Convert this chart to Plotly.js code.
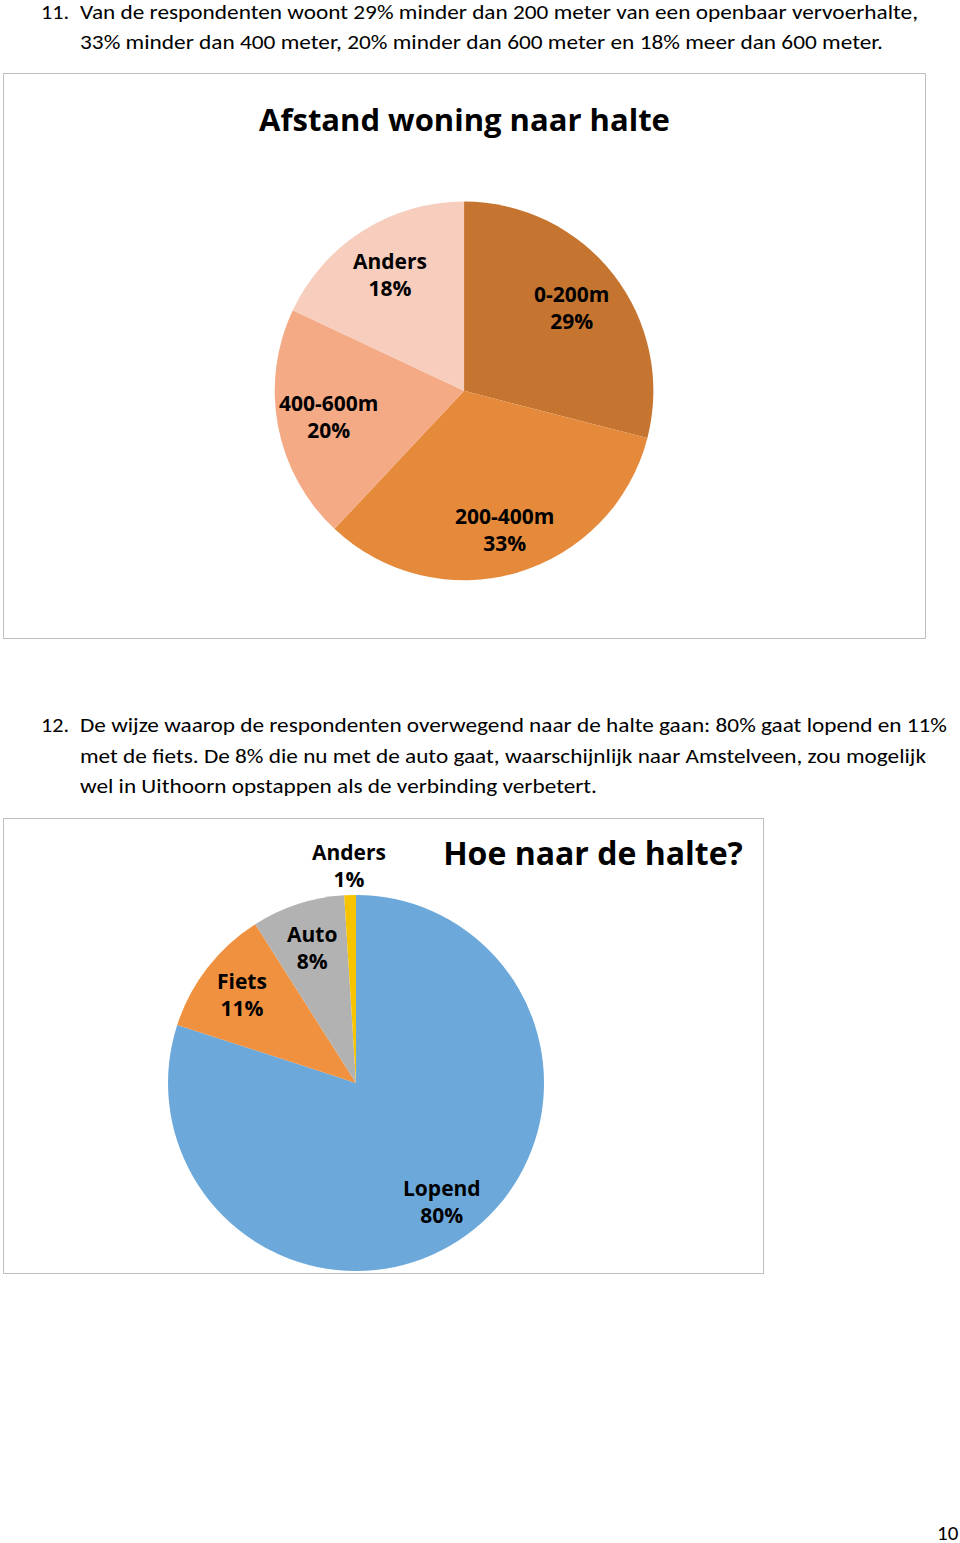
<!DOCTYPE html>
<html>
<head>
<meta charset="utf-8">
<script src="https://cdn.plot.ly/plotly-3.0.1.min.js"></script>
<style>
  html, body { margin:0; padding:0; background:#fff; }
  body { width:960px; height:1543px; position:relative; overflow:hidden; font-family: Carlito, Calibri, "Liberation Sans Narrow", "Open Sans", sans-serif; color:#000; }
  .line { position:absolute; white-space:nowrap; font-size:21px; line-height:24px; transform-origin:0 50%; }
  .box { position:absolute; border:1px solid #bfbfbf; box-sizing:border-box; background:#fff; }
</style>
</head>
<body>
<div class="line fit" data-w="28" style="left:41px;top:0px;">11.</div>
<div class="line fit" data-w="838" style="left:80px;top:0px;">Van de respondenten woont 29% minder dan 200 meter van een openbaar vervoerhalte,</div>
<div class="line fit" data-w="803" style="left:80px;top:30px;">33% minder dan 400 meter, 20% minder dan 600 meter en 18% meer dan 600 meter.</div>

<div id="chart1" class="box" style="left:3px;top:73px;width:923px;height:566px;"></div>

<div class="line fit" data-w="28" style="left:41px;top:713px;">12.</div>
<div class="line fit" data-w="867" style="left:80px;top:713px;">De wijze waarop de respondenten overwegend naar de halte gaan: 80% gaat lopend en 11%</div>
<div class="line fit" data-w="846" style="left:80px;top:744px;">met de fiets. De 8% die nu met de auto gaat, waarschijnlijk naar Amstelveen, zou mogelijk</div>
<div class="line fit" data-w="517" style="left:80px;top:774px;">wel in Uithoorn opstappen als de verbinding verbetert.</div>

<div id="chart2" class="box" style="left:3px;top:818px;width:761px;height:456px;"></div>

<div class="line" style="left:937px;top:1521px;font-size:21px;">10</div>

<script>
// ---- data ----
const chart1Title = "Afstand woning naar halte";
const distLabels = ["0-200m", "200-400m", "400-600m", "Anders"];
const distValues = [29, 33, 20, 18];
const distColors = ["#C57530", "#E5893B", "#F4AA85", "#F7CDBD"];

const chart2Title = "Hoe naar de halte?";
const modeLabels = ["Lopend", "Fiets", "Auto", "Anders"];
const modeValues = [80, 11, 8, 1];
const modeColors = ["#6CA9DA", "#F0913F", "#B2B2B2", "#F6C400"];

// fit text lines to reference widths
document.querySelectorAll('.fit').forEach(el => {
  const w = el.getBoundingClientRect().width;
  const target = +el.dataset.w;
  el.style.transform = 'scaleX(' + (target / w) + ')';
});

const cfg = {staticPlot: true, displayModeBar: false};

// data labels placed along each slice's mid-angle (clockwise from 12 o'clock)
function sliceLabels(labels, values, dom, W, H, radFrac) {
  const total = values.reduce((a, b) => a + b, 0);
  const cx = (dom.x[0] + dom.x[1]) / 2, cy = (dom.y[0] + dom.y[1]) / 2;
  const R = Math.min((dom.x[1] - dom.x[0]) * W, (dom.y[1] - dom.y[0]) * H) / 2;
  let cum = 0;
  return labels.map((lab, i) => {
    const mid = (cum + values[i] / 2) / total * 2 * Math.PI;
    cum += values[i];
    const r = R * radFrac[i];
    return {
      text: '<b>' + lab + '<br>' + values[i] + '%</b>',
      x: cx + r * Math.sin(mid) / W, y: cy + r * Math.cos(mid) / H,
      xref: 'paper', yref: 'paper', showarrow: false,
      xanchor: 'center', yanchor: 'middle',
      font: {family: "Open Sans", size: 14, color: "#000"}
    };
  });
}

const W1 = 921, H1 = 564;
const dom1 = {x: [0.2936, 0.7054], y: [0.1025, 0.7739]};
Plotly.newPlot('chart1', [{
  type: 'pie',
  labels: distLabels,
  values: distValues,
  sort: false,
  direction: 'clockwise',
  rotation: 0,
  marker: {colors: distColors, line: {width: 0}},
  textinfo: 'none',
  hoverinfo: 'none',
  domain: dom1
}], {
  width: W1, height: H1,
  margin: {l: 0, r: 0, t: 0, b: 0},
  showlegend: false,
  paper_bgcolor: '#fff',
  annotations: sliceLabels(distLabels, distValues, dom1, W1, H1, [0.72, 0.76, 0.73, 0.73]),
  title: {text: chart1Title, x: 0.5, xanchor: 'center', y: 0.918, yanchor: 'middle',
          font: {family: "Open Sans, sans-serif", size: 31, color: "#000", weight: 700}}
}, cfg);

const W2 = 759, H2 = 454;
const dom2 = {x: [0.2161, 0.7115], y: [0.0044, 0.8326]};
Plotly.newPlot('chart2', [{
  type: 'pie',
  labels: modeLabels,
  values: modeValues,
  sort: false,
  direction: 'clockwise',
  rotation: 0,
  marker: {colors: modeColors, line: {width: 0}},
  textinfo: 'none',
  hoverinfo: 'none',
  domain: dom2
}], {
  width: W2, height: H2,
  margin: {l: 0, r: 0, t: 0, b: 0},
  showlegend: false,
  paper_bgcolor: '#fff',
  annotations: sliceLabels(modeLabels, modeValues, dom2, W2, H2, [0.78, 0.77, 0.76, 1.16]),
  title: {text: chart2Title, x: 0.776, xanchor: 'center', y: 0.923, yanchor: 'middle',
          font: {family: "Open Sans, sans-serif", size: 32, color: "#000", weight: 700}}
}, cfg);
</script>
</body>
</html>
